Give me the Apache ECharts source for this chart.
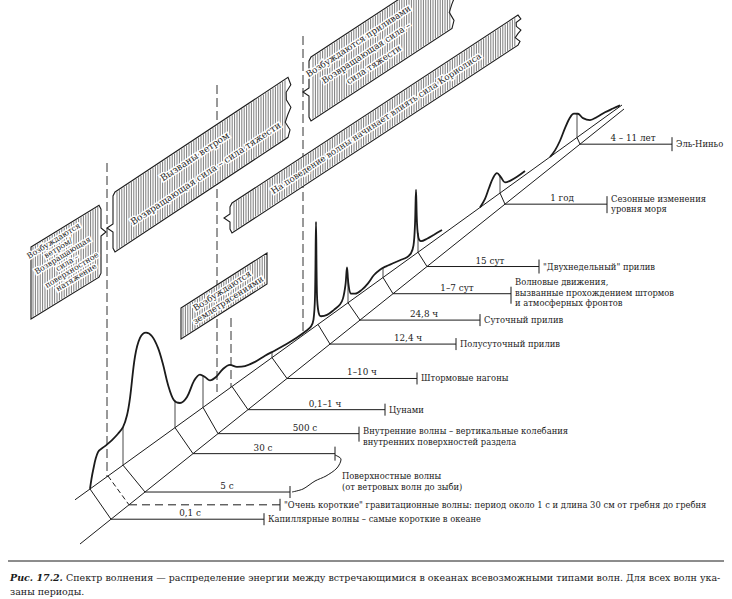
<!DOCTYPE html>
<html lang="ru">
<head>
<meta charset="utf-8">
<title>Рис. 17.2. Спектр волнения</title>
<script src="https://cdn.jsdelivr.net/npm/echarts@6/dist/echarts.min.js"></script>
<style>
  html, body { margin: 0; background: #fff; }
  #chart { width: 732px; height: 599px; }
</style>
</head>
<body>
<div id="chart"></div>
<script>
// ---- данные: периоды волн и их названия ----
const periods = ['0,1 с', '', '5 с', '30 с', '500 с', '0,1–1 ч', '1–10 ч', '12,4 ч', '24,8 ч', '1–7 сут', '15 сут', '1 год', '4 – 11 лет'];
const waveTypes = [
  'Капиллярные волны – самые короткие в океане',
  '"Очень короткие" гравитационные волны: период около 1 с и длина 30 см от гребня до гребня',
  '',
  '',
  'Внутренние волны – вертикальные колебания\nвнутренних поверхностей раздела',
  'Цунами',
  'Штормовые нагоны',
  'Полусуточный прилив',
  'Суточный прилив',
  'Волновые движения,\nвызванные прохождением штормов\nи атмосферных фронтов',
  '"Двухнедельный" прилив',
  'Сезонные изменения\nуровня моря',
  'Эль-Ниньо'
];
const surfaceWaves = 'Поверхностные волны\n(от ветровых волн до зыби)';

// энергия (высота кривой над основанием), три участка спектра
const shortX = [90, 93, 98, 105, 112, 118, 123, 127, 130, 135, 140, 146, 152, 158, 163, 168, 174, 180, 187, 194,
  200, 205, 210, 216, 223, 230, 237, 245, 255, 265, 275, 287, 297, 306, 311, 313.5, 315, 316, 317, 318.5,
  321, 327, 334, 340, 343, 345.5, 347, 348.5, 351, 355, 362, 368, 374, 380, 386, 393, 400, 407, 411, 413.5,
  415, 416, 417, 418.5, 421, 427, 434, 442];
const shortE = [0, 16, 31, 32, 33, 35, 38, 47, 62, 100, 115, 116, 108, 92, 72, 48, 28, 21, 22, 33,
  35, 29, 22, 21, 24, 23, 16, 11, 8, 7, 5, 3, 2, 2, 3, 8, 30, 104, 30, 12,
  6, 3, 3, 4, 8, 20, 36, 18, 7, 4, 3, 5, 9, 10, 9, 7, 5, 3, 4, 10,
  30, 64, 30, 14, 9, 7, 6, 5];
const seasonX = [480, 485, 489, 493, 497, 501, 505, 510, 517, 525];
const seasonE = [0, 5, 13, 20, 22, 15, 7, 5, 4, 4];
const ensoX = [550, 555, 560, 565, 570, 574, 578, 583, 590, 597, 605, 613, 620];
const ensoE = [0, 3, 9, 18, 25, 26, 23, 15, 8, 6, 5, 3, 1];

// надписи на заштрихованных полосах
const bandTexts = [
  ['Возбуждаются', 'ветром/', 'Возвращающая', 'сила –', 'поверхностное', 'натяжение'],
  ['Вызваны ветром', 'Возвращающая сила – сила тяжести'],
  ['На поведение волны начинает влиять сила Кориолиса'],
  ['Возбуждаются приливами', 'Возвращающая сила –', 'сила тяжести'],
  ['Возбуждаются', 'землетрясениями']
];

// ---- разметка рисунка (в единицах осей) ----
const upperEdge = [[75, 499.8], [622, 105]];
const lowerEdge = [[80, 544], [624, 109]];
const divUpperX = [90, 108, 123, 175, 203, 232, 272, 318, 348, 383, 418, 500, 577];
const divLowerX = [111, 129, 145, 193, 218, 248, 287, 330, 360, 393, 427, 505, 580];
const leaderEndX = [264, 280, 290, 335, 359, 385, 417, 456, 480, 511, 539, 607, 672];
const periodX = [190, 0, 227, 263, 305, 325, 362, 408, 424, 457, 490, 562, 633];
const tickUp = [6, 6, 6, 7, 7, 6, 6, 6, 6, 7, 7, 8, 7];
const tickDown = [6, 6, 6, 7, 8, 6, 6, 6, 6, 10, 7, 9, 7];
const descDy = [0, 0, 0, 0, 3, 0, 0, 0, 0, -1, 0, 0, 0];
const dropIdx = [2, 3, 4, 6, 8, 9, 10, 11, 12];
const separators = [[107, 163, 477], [217, 85, 392], [231, 318, 387], [303, 36, 335]];
const surfaceBrace = [[335, 455], [341, 459], [337, 468], [326, 476], [315, 481], [303, 489], [292, 492]];
const bands = [
  { x0: 31, x1: 99, y0: 247, h: 72, slope: -0.615, left: 'plain', right: 'brace', tip: [106, 232], cx: 65, dy: -3, gap: 8.6, size: 7.8 },
  { x0: 115, x1: 288, y0: 192, h: 60, slope: -0.663, left: 'brace', right: 'torn', tip: [107, 228], cx: 200, dy: -1, gap: 20, size: 9.2 },
  { x0: 232, x1: 518, y0: 203, h: 30, slope: -0.657, left: 'brace', right: 'torn', tip: [224, 218], cx: 376, dy: 0, gap: 0, size: 8.6 },
  { x0: 311, x1: 452, y0: 57, h: 64, slope: -0.657, left: 'brace', right: 'torn', tip: [303, 92], cx: 366, dy: 0, gap: 14, size: 8.8 },
  { x0: 181, x1: 267, y0: 308, h: 31, slope: -0.64, left: 'plain', right: 'plain', tip: null, cx: 225, dy: 0, gap: 11, size: 8.6 }
];

const INK = '#1b1b1b';
const FAMILY = 'DejaVu Serif';
const txt = (size, extra) => Object.assign({ fontFamily: FAMILY, fontSize: size, fill: INK }, extra || {});

function edgeY(e, x) {
  return e[0][1] + (e[1][1] - e[0][1]) * (x - e[0][0]) / (e[1][0] - e[0][0]);
}
const yU = x => edgeY(upperEdge, x);
const yL = x => edgeY(lowerEdge, x);

function specE(x) {
  for (const [xs, es] of [[shortX, shortE], [seasonX, seasonE], [ensoX, ensoE]]) {
    if (x < xs[0] || x > xs[xs.length - 1]) continue;
    for (let k = 1; k < xs.length; k++) {
      if (x <= xs[k]) return es[k - 1] + (es[k] - es[k - 1]) * (x - xs[k - 1]) / (xs[k] - xs[k - 1]);
    }
  }
  return 0;
}

function lineEl(a, b, style) {
  return { type: 'line', shape: { x1: a[0], y1: a[1], x2: b[0], y2: b[1] }, style: Object.assign({ stroke: INK, lineWidth: 1 }, style || {}) };
}

function renderBand(params, api) {
  const b = bands[params.dataIndex];
  const texts = bandTexts[params.dataIndex];
  const P = (x, y) => api.coord([x, y]);
  const top = x => b.y0 + b.slope * (x - b.x0);
  const bot = x => top(x) + b.h;
  const pts = [];
  pts.push(P(b.x0, top(b.x0)));
  pts.push(P(b.x1, top(b.x1)));
  if (b.right === 'torn') {
    for (let k = 1; k < 8; k++) pts.push(P(b.x1 + 3 * Math.sin(k * 1.9), top(b.x1) + b.h * k / 8));
  } else if (b.right === 'brace') {
    pts.push(P(b.x1 + 2, top(b.x1) + 4), P(b.x1 + 2, b.tip[1] - 4), P(b.tip[0], b.tip[1]),
      P(b.x1 + 2, b.tip[1] + 4), P(b.x1 + 2, bot(b.x1) - 4));
  }
  pts.push(P(b.x1, bot(b.x1)));
  pts.push(P(b.x0, bot(b.x0)));
  if (b.left === 'brace') {
    pts.push(P(b.x0 - 2, bot(b.x0) - 4), P(b.x0 - 2, b.tip[1] + 4), P(b.tip[0], b.tip[1]),
      P(b.x0 - 2, b.tip[1] - 4), P(b.x0 - 2, top(b.x0) + 4));
  }
  const children = [{ type: 'polygon', shape: { points: pts }, style: { fill: '#fff', stroke: INK, lineWidth: 1.1 } }];
  for (let x = b.x0 + 2; x < b.x1 - 1; x += 2.4) {
    children.push(lineEl(P(x, top(x) + 1), P(x, bot(x) - 1), { stroke: '#444', lineWidth: 0.7 }));
  }
  const ang = Math.atan(-b.slope);
  const cy = top(b.cx) + b.h / 2 + b.dy;
  const n = texts.length;
  texts.forEach((t, i) => {
    const d = (i - (n - 1) / 2) * b.gap;
    const c = P(b.cx + d * Math.sin(ang), cy + d * Math.cos(ang));
    children.push({
      type: 'text', x: c[0], y: c[1], rotation: ang,
      style: txt(b.size, { text: t, align: 'center', verticalAlign: 'middle', stroke: '#fff', lineWidth: 3 })
    });
  });
  return { type: 'group', children };
}

const chart = echarts.init(document.getElementById('chart'), null, { renderer: 'svg' });

const spectrumSeries = [[shortX, shortE], [seasonX, seasonE], [ensoX, ensoE]].map(([xs, es]) => ({
  type: 'line',
  data: xs.map((x, i) => [x, yU(x) - es[i]]),
  smooth: 0.35,
  symbol: 'none',
  lineStyle: { color: INK, width: 1.8 },
  z: 5
}));

chart.setOption({
  animation: false,
  backgroundColor: '#fff',
  textStyle: { fontFamily: FAMILY },
  grid: { left: 0, right: 0, top: 0, bottom: 0 },
  xAxis: { type: 'value', min: 0, max: 732, show: false },
  yAxis: { type: 'value', min: 0, max: 599, inverse: true, show: false },
  series: [
    // штриховые разделители
    {
      type: 'custom', z: 1,
      data: separators,
      renderItem: (params, api) => lineEl(api.coord([api.value(0), api.value(1)]), api.coord([api.value(0), api.value(2)]),
        { lineDash: [9, 4], lineWidth: 0.9 })
    },
    // основание (перспективная полоса)
    {
      type: 'line', symbol: 'none', z: 3, lineStyle: { color: INK, width: 1 },
      data: upperEdge.map(p => [p[0], yU(p[0])])
    },
    {
      type: 'line', symbol: 'none', z: 3, lineStyle: { color: INK, width: 1 },
      data: lowerEdge.map(p => [p[0], yL(p[0])])
    },
    // поперечные деления полосы
    {
      type: 'custom', z: 3,
      data: divUpperX.map((ux, i) => [ux, yU(ux)]),
      renderItem: (params, api) => {
        const i = params.dataIndex;
        return lineEl(api.coord([divUpperX[i], yU(divUpperX[i])]), api.coord([divLowerX[i], yL(divLowerX[i])]),
          i === 1 ? { lineDash: [5, 3] } : null);
      }
    },
    // вертикали от основания до кривой
    {
      type: 'custom', z: 3,
      data: dropIdx.map(i => [divUpperX[i], yU(divUpperX[i])]),
      renderItem: (params, api) => {
        const ux = api.value(0);
        return lineEl(api.coord([ux, yU(ux)]), api.coord([ux, yU(ux) - specE(ux)]), { lineWidth: 0.8 });
      }
    },
    // выноски с периодами и названиями волн
    {
      type: 'custom', z: 3,
      data: divLowerX.map(x => [x, yL(x)]),
      renderItem: (params, api) => {
        const i = params.dataIndex;
        const y = yL(divLowerX[i]);
        const a = api.coord([divLowerX[i], y]);
        const b = api.coord([leaderEndX[i], y]);
        const children = [
          lineEl(a, b, i === 1 ? { lineDash: [8, 5] } : null),
          lineEl([b[0], b[1] - tickUp[i]], [b[0], b[1] + tickDown[i]])
        ];
        if (periods[i]) {
          children.push({ type: 'text', x: api.coord([periodX[i], y])[0], y: a[1] - 1.5,
            style: txt(8.8, { text: periods[i], align: 'center', verticalAlign: 'bottom' }) });
        }
        if (waveTypes[i]) {
          children.push({ type: 'text', x: b[0] + 4, y: b[1] + descDy[i],
            style: txt(8.4, { text: waveTypes[i], align: 'left', verticalAlign: 'middle', lineHeight: 10.5 }) });
        }
        return { type: 'group', children };
      }
    },
    // скобка «Поверхностные волны»
    {
      type: 'custom', z: 3,
      data: [[surfaceBrace[0][0], surfaceBrace[0][1]]],
      renderItem: (params, api) => ({
        type: 'group',
        children: [
          { type: 'polyline', shape: { points: surfaceBrace.map(p => api.coord(p)), smooth: 0.3 }, style: { stroke: INK, lineWidth: 1, fill: null } },
          { type: 'text', x: api.coord([342, 481])[0], y: api.coord([342, 481])[1],
            style: txt(8.4, { text: surfaceWaves, align: 'left', verticalAlign: 'middle', lineHeight: 11 }) }
        ]
      })
    },
    // заштрихованные полосы
    {
      type: 'custom', z: 6,
      data: bands.map(b => [b.x0, b.y0]),
      renderItem: renderBand
    }
  ].concat(spectrumSeries),
  graphic: [
    { type: 'line', shape: { x1: 8, y1: 561, x2: 724, y2: 561 }, style: { stroke: INK, lineWidth: 1 } },
    {
      type: 'text', left: 10, top: 570,
      style: {
        text: '{b|Рис. 17.2.} Спектр волнения — распределение энергии между встречающимися в океанах всевозможными типами волн. Для всех волн ука-\nзаны периоды.',
        fontFamily: FAMILY, fontSize: 9.5, fill: INK, lineHeight: 14,
        rich: { b: { fontFamily: FAMILY, fontSize: 9.5, fontStyle: 'italic', fontWeight: 'bold', fill: INK } }
      }
    }
  ]
});
</script>
</body>
</html>
